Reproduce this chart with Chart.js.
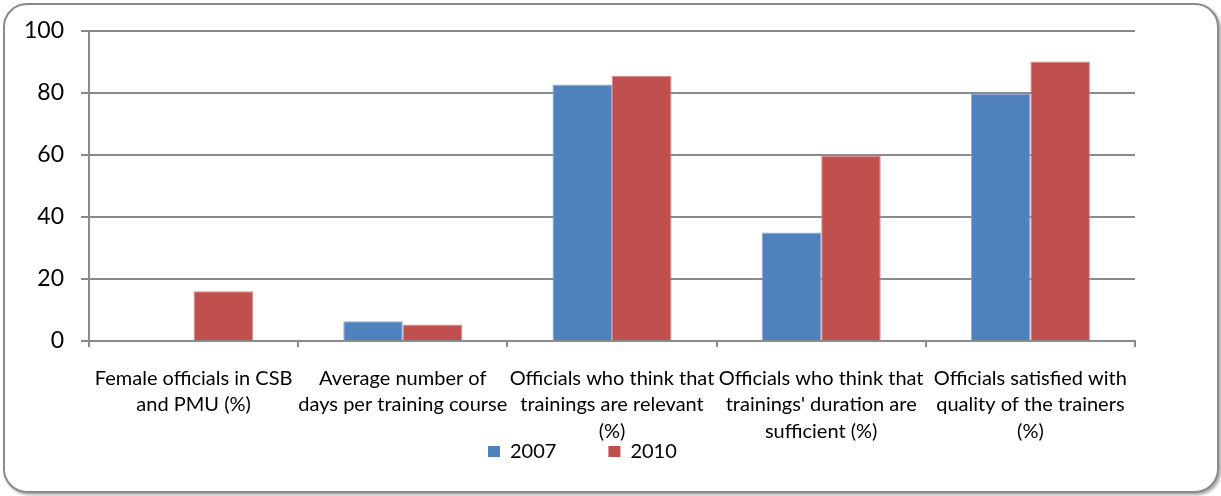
<!DOCTYPE html>
<html>
<head>
<meta charset="utf-8">
<title>Training survey 2007 / 2010</title>
<script src="https://cdn.jsdelivr.net/npm/chart.js@4.4.1/dist/chart.umd.min.js"></script>
<style>
  html, body { margin: 0; padding: 0; background: #fff; }
  #frame {
    position: absolute; left: 3px; top: 3px;
    width: 1212px; height: 486px;
    border: 2px solid #8a8a8a; border-radius: 24px;
    box-shadow: 2px 2px 3px rgba(0, 0, 0, 0.35);
    background: #fff;
  }
  #wrap { position: absolute; left: 0; top: 0; width: 1221px; height: 496px; }
</style>
</head>
<body>
<div id="frame"></div>
<div id="wrap"><canvas id="surveyChart" width="1221" height="496"></canvas></div>
<script>
// categories, one array of lines per label
const categories = [
    ["Female officials in CSB", "and PMU (%)"],
    ["Average number of", "days per training course"],
    ["Officials who think that", "trainings are relevant", "(%)"],
    ["Officials who think that", "trainings' duration are", "sufficient (%)"],
    ["Officials satisfied with", "quality of the trainers", "(%)"]
];
const seriesNames = ["2007", "2010"];
const values2007 = [null, 6.4, 82.7, 35.0, 79.6];
const values2010 = [16.0, 5.3, 85.5, 59.7, 90.1];
const yMin = 0;
const yMax = 100;
const yStep = 20;

const blue = "#4F81BD";
const red = "#C0504D";
const gridGray = "#8a8a8a";
const fontName = "Lato, 'Open Sans', sans-serif";

// moves the legend up under the axis labels, a bit left of centre
const legendPlacer = {
    id: "legendPlacer",
    afterLayout(chart) {
        const lg = chart.legend;
        const pad = lg.options.labels.padding;
        lg.left = 488 - pad;
        lg.right = 1221;
        lg.top = 441.5 - pad;
        lg.bottom = 496;
    }
};

const ctx = document.getElementById("surveyChart").getContext("2d");

const surveyChart = new Chart(ctx, {
    type: "bar",
    data: {
        labels: categories,
        datasets: [
            {
                label: seriesNames[0],
                data: values2007,
                backgroundColor: blue,
                borderColor: "#8eaad3",
                borderWidth: 1
            },
            {
                label: seriesNames[1],
                data: values2010,
                backgroundColor: red,
                borderColor: "#d68684",
                borderWidth: 1
            }
        ]
    },
    options: {
        responsive: false,
        animation: false,
        categoryPercentage: 0.569,
        barPercentage: 1.0,
        layout: {
            padding: { left: 0, top: 29, right: 86, bottom: 0 }
        },
        plugins: {
            legend: {
                position: "bottom",
                align: "start",
                maxHeight: 40,
                labels: {
                    boxWidth: 12,
                    boxHeight: 11,
                    padding: 52,
                    color: "#000",
                    font: { family: fontName, size: 20 },
                    // legend squares without the edge colour
                    generateLabels(chart) {
                        return chart.data.datasets.map((ds, i) => ({
                            text: ds.label,
                            fillStyle: ds.backgroundColor,
                            strokeStyle: ds.backgroundColor,
                            lineWidth: 0,
                            hidden: false,
                            datasetIndex: i
                        }));
                    }
                }
            },
            tooltip: { enabled: false }
        },
        scales: {
            x: {
                afterFit(scale) { scale.height = 115; },
                grid: {
                    offset: true,
                    drawOnChartArea: false,
                    drawTicks: true,
                    tickLength: 6,
                    color: gridGray,
                    lineWidth: 2
                },
                border: { color: gridGray, width: 2 },
                ticks: {
                    maxRotation: 0,
                    autoSkip: false,
                    padding: 18,
                    color: "#000",
                    font: { family: fontName, size: 20, lineHeight: 1.325 }
                }
            },
            y: {
                min: yMin,
                max: yMax,
                afterFit(scale) { scale.width = 89; },
                grid: {
                    color: gridGray,
                    lineWidth: 2,
                    tickLength: 8
                },
                border: { color: gridGray, width: 2 },
                ticks: {
                    stepSize: yStep,
                    padding: 17,
                    color: "#000",
                    font: { family: fontName, size: 23 }
                }
            }
        }
    },
    plugins: [legendPlacer]
});
</script>
</body>
</html>
